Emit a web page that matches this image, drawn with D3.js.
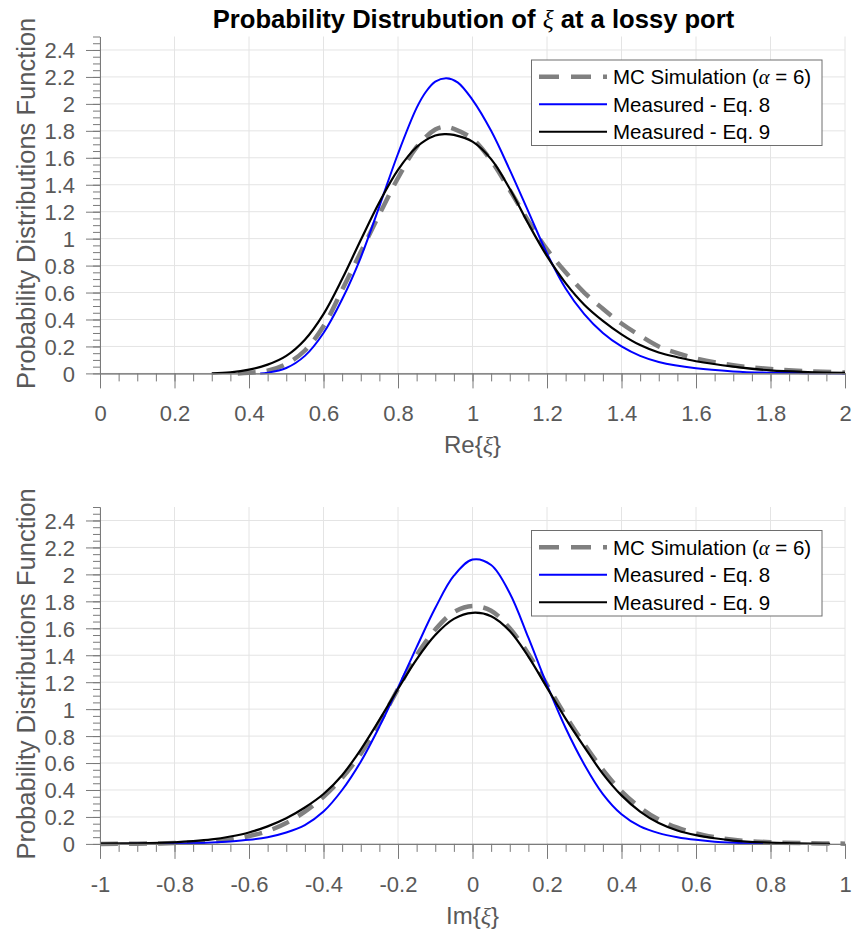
<!DOCTYPE html>
<html><head><meta charset="utf-8">
<script src="https://cdn.jsdelivr.net/npm/d3@7"></script>
<style>body{margin:0;background:#fff}svg{display:block}</style>
</head><body><svg id="c" width="856" height="934"></svg>
<script>
// ---------- data ----------
const chartTitle = ["Probability Distrubution of ", "ξ", " at a lossy port"];
const yLabel = "Probability Distributions Function";
const legendLabels = [["MC Simulation (", "α", " = 6)"], ["Measured - Eq. 8"], ["Measured - Eq. 9"]];
const seriesColors = ["#808080", "#0000ff", "#000000"];

const reTicks = [0, 0.2, 0.4, 0.6, 0.8, 1, 1.2, 1.4, 1.6, 1.8, 2];
const imTicks = [-1, -0.8, -0.6, -0.4, -0.2, 0, 0.2, 0.4, 0.6, 0.8, 1];
const pdfTicks = [0, 0.2, 0.4, 0.6, 0.8, 1, 1.2, 1.4, 1.6, 1.8, 2, 2.2, 2.4];

// Re{xi} panel
const reMcX = [0.37, 0.40, 0.45, 0.50, 0.55, 0.60, 0.65, 0.70, 0.75, 0.80, 0.85, 0.90, 0.925, 0.95, 1.00, 1.05, 1.10, 1.15, 1.20, 1.25, 1.30, 1.35, 1.40, 1.45, 1.50, 1.55, 1.60, 1.70, 1.80, 1.90, 2.00];
const reMcY = [0.0, 0.004, 0.02, 0.07, 0.17, 0.35, 0.62, 0.90, 1.18, 1.45, 1.68, 1.81, 1.83, 1.815, 1.74, 1.58, 1.36, 1.13, 0.92, 0.75, 0.60, 0.48, 0.37, 0.28, 0.20, 0.15, 0.11, 0.06, 0.033, 0.016, 0.007];
const reEq8X = [0.43, 0.45, 0.50, 0.55, 0.60, 0.65, 0.70, 0.75, 0.80, 0.85, 0.875, 0.90, 0.93, 0.96, 1.00, 1.05, 1.10, 1.15, 1.20, 1.25, 1.30, 1.35, 1.40, 1.45, 1.50, 1.60, 1.70, 1.80, 1.90, 2.00];
const reEq8Y = [0.0, 0.005, 0.04, 0.13, 0.30, 0.55, 0.86, 1.24, 1.63, 1.97, 2.09, 2.165, 2.19, 2.16, 2.03, 1.80, 1.51, 1.20, 0.89, 0.63, 0.44, 0.30, 0.20, 0.13, 0.085, 0.038, 0.015, 0.005, 0.002, 0.0];
const reEq9X = [0.30, 0.35, 0.40, 0.45, 0.50, 0.55, 0.60, 0.65, 0.70, 0.75, 0.80, 0.85, 0.90, 0.925, 0.95, 1.00, 1.05, 1.10, 1.15, 1.20, 1.25, 1.30, 1.35, 1.40, 1.45, 1.50, 1.55, 1.60, 1.70, 1.80, 1.90, 2.00];
const reEq9Y = [0.0, 0.008, 0.028, 0.065, 0.13, 0.25, 0.44, 0.70, 0.99, 1.27, 1.51, 1.68, 1.765, 1.776, 1.77, 1.72, 1.59, 1.37, 1.11, 0.87, 0.67, 0.51, 0.39, 0.29, 0.21, 0.155, 0.12, 0.09, 0.05, 0.022, 0.01, 0.004];

// Im{xi} panel
const imMcX = [-1, -0.9, -0.8, -0.7, -0.65, -0.60, -0.55, -0.50, -0.45, -0.40, -0.35, -0.30, -0.25, -0.20, -0.15, -0.10, -0.05, 0.0, 0.05, 0.10, 0.15, 0.20, 0.25, 0.30, 0.35, 0.40, 0.45, 0.50, 0.55, 0.60, 0.65, 0.70, 0.80, 0.90, 1.0];
const imMcY = [0.0, 0.002, 0.006, 0.018, 0.032, 0.058, 0.095, 0.155, 0.24, 0.35, 0.49, 0.67, 0.90, 1.15, 1.40, 1.59, 1.72, 1.765, 1.73, 1.60, 1.41, 1.18, 0.95, 0.74, 0.55, 0.39, 0.27, 0.18, 0.12, 0.078, 0.05, 0.03, 0.012, 0.005, 0.002];
const imEq8X = [-0.95, -0.85, -0.75, -0.70, -0.65, -0.60, -0.55, -0.50, -0.45, -0.40, -0.35, -0.30, -0.25, -0.20, -0.15, -0.10, -0.05, 0.0, 0.05, 0.10, 0.15, 0.20, 0.25, 0.30, 0.35, 0.40, 0.45, 0.50, 0.55, 0.60, 0.65, 0.70, 0.78];
const imEq8Y = [0.0, 0.001, 0.005, 0.01, 0.018, 0.03, 0.05, 0.085, 0.14, 0.24, 0.40, 0.61, 0.87, 1.16, 1.46, 1.75, 1.99, 2.11, 2.07, 1.86, 1.53, 1.18, 0.86, 0.59, 0.37, 0.22, 0.13, 0.08, 0.05, 0.03, 0.016, 0.008, 0.0];
const imEq9X = [-1, -0.9, -0.8, -0.75, -0.70, -0.65, -0.60, -0.55, -0.50, -0.45, -0.40, -0.35, -0.30, -0.25, -0.20, -0.15, -0.10, -0.05, 0.0, 0.05, 0.10, 0.15, 0.20, 0.25, 0.30, 0.35, 0.40, 0.45, 0.50, 0.55, 0.60, 0.65, 0.70, 0.78, 0.87, 0.96];
const imEq9Y = [0.002, 0.005, 0.012, 0.02, 0.033, 0.055, 0.085, 0.13, 0.19, 0.27, 0.37, 0.51, 0.70, 0.92, 1.15, 1.37, 1.55, 1.67, 1.715, 1.69, 1.58, 1.39, 1.16, 0.93, 0.72, 0.52, 0.36, 0.24, 0.155, 0.10, 0.065, 0.042, 0.025, 0.011, 0.004, 0.001];

// ---------- drawing ----------
const svg = d3.select("#c");
const SANS = "'Liberation Sans', Arial, Helvetica, sans-serif";
const SERIF = "'Liberation Serif', 'Times New Roman', serif";
const TXT = "#595959", AX = "#7a7a7a", GRID = "#e4e4e4";
const fmt = v => { const s = String(+(+v).toFixed(2)); return s === "-0" ? "0" : s; };

function range(a, b, step) { const out = []; const n = Math.round((b - a) / step); for (let i = 0; i <= n; i++) out.push(+(a + i * step).toFixed(4)); return out; }

function addMixed(sel, parts) {
  parts.forEach(p => {
    const t = sel.append("tspan").text(p);
    if (p === "ξ" || p === "α") t.attr("font-family", SERIF).attr("font-style", "italic").attr("font-weight", "normal");
  });
}

function panel(cfg) {
  const x = d3.scaleLinear().domain(cfg.xDomain).range([100, 845]);
  const y = d3.scaleLinear().domain([0, 2.5]).range([cfg.y0, cfg.y0 - 336.9]);
  const g = svg.append("g");

  // grid
  g.append("g").selectAll("line").data(cfg.xTicks).join("line")
    .attr("x1", d => x(d)).attr("x2", d => x(d)).attr("y1", y(0)).attr("y2", y(2.5))
    .attr("stroke", GRID).attr("stroke-width", 1);
  g.append("g").selectAll("line").data(pdfTicks).join("line")
    .attr("x1", x(cfg.xDomain[0])).attr("x2", x(cfg.xDomain[1])).attr("y1", d => y(d)).attr("y2", d => y(d))
    .attr("stroke", GRID).attr("stroke-width", 1);

  // curves
  const line = d3.line().x(d => x(d[0])).y(d => y(Math.max(0, d[1]))).curve(d3.curveCatmullRom.alpha(0.5));
  const series = [
    { xs: cfg.mcX, ys: cfg.mcY, c: seriesColors[0], w: 4.5, dash: "18,11" },
    { xs: cfg.e8X, ys: cfg.e8Y, c: seriesColors[1], w: 2, dash: null },
    { xs: cfg.e9X, ys: cfg.e9Y, c: seriesColors[2], w: 2.2, dash: null }
  ];
  series.forEach(s => {
    g.append("path").datum(d3.zip(s.xs, s.ys)).attr("d", line)
      .attr("fill", "none").attr("stroke", s.c).attr("stroke-width", s.w)
      .attr("stroke-dasharray", s.dash).attr("stroke-linejoin", "round");
  });

  // x axis
  const xMinor = d3.axisBottom(x).tickValues(range(cfg.xDomain[0], cfg.xDomain[1], 0.05)).tickSize(8).tickSizeOuter(0).tickFormat("");
  const xMajor = d3.axisBottom(x).tickValues(cfg.xTicks).tickSize(15).tickSizeOuter(0).tickPadding(17).tickFormat(fmt);
  const gxm = g.append("g").attr("transform", `translate(0,${y(0)})`).call(xMinor);
  const gx = g.append("g").attr("transform", `translate(0,${y(0)})`).call(xMajor);
  // y axis
  const yMinor = d3.axisLeft(y).tickValues(range(0, 2.5, 0.05)).tickSize(7).tickSizeOuter(0).tickFormat("");
  const yMajor = d3.axisLeft(y).tickValues(pdfTicks).tickSize(14).tickSizeOuter(0).tickPadding(11).tickFormat(fmt);
  const gym = g.append("g").attr("transform", "translate(100,0)").call(yMinor);
  const gy = g.append("g").attr("transform", "translate(100,0)").call(yMajor);
  [gxm, gx, gym, gy].forEach(a => {
    a.selectAll("path.domain").attr("stroke", AX).attr("stroke-width", 1);
    a.selectAll("line").attr("stroke", AX).attr("stroke-width", 1);
    a.selectAll("text").attr("fill", TXT).attr("font-family", SANS).attr("font-size", 22);
  });
  gy.selectAll("text").attr("dy", "0.36em");

  // x label
  const xl = g.append("text").attr("x", 472.5).attr("y", cfg.y0 + 80).attr("text-anchor", "middle")
    .attr("font-family", SANS).attr("font-size", 24).attr("fill", TXT);
  addMixed(xl, cfg.xLabel);
  // y label
  g.append("text").attr("transform", `translate(35,${cfg.y0 - 170}) rotate(-90)`).attr("text-anchor", "middle")
    .attr("font-family", SANS).attr("font-size", 25.5).attr("fill", TXT).text(yLabel);

  // legend
  const L = g.append("g").attr("transform", `translate(0,${cfg.y0 - 373.4})`);
  L.append("rect").attr("x", 531.5).attr("y", 60).attr("width", 290.5).attr("height", 85.5)
    .attr("fill", "#fff").attr("stroke", "#6e6e6e").attr("stroke-width", 1);
  series.forEach((s, i) => {
    const cy = 76.7 + i * 27.5;
    L.append("line").attr("x1", 539).attr("x2", 607).attr("y1", cy).attr("y2", cy)
      .attr("stroke", s.c).attr("stroke-width", s.w === 4.5 ? 4.5 : 2).attr("stroke-dasharray", s.dash ? "20,12" : null);
    const t = L.append("text").attr("x", 613).attr("y", cy).attr("dy", "0.36em")
      .attr("font-family", SANS).attr("font-size", 20.5).attr("fill", "#000");
    addMixed(t, legendLabels[i]);
  });
}

// title
const tt = svg.append("text").attr("x", 473.5).attr("y", 28).attr("text-anchor", "middle")
  .attr("font-family", SANS).attr("font-weight", "bold").attr("font-size", 25.6).attr("fill", "#000");
addMixed(tt, chartTitle);

panel({ xDomain: [0, 2], xTicks: reTicks, y0: 373.4, xLabel: ["Re{", "ξ", "}"],
  mcX: reMcX, mcY: reMcY, e8X: reEq8X, e8Y: reEq8Y, e9X: reEq9X, e9Y: reEq9Y });
panel({ xDomain: [-1, 1], xTicks: imTicks, y0: 843.9, xLabel: ["Im{", "ξ", "}"],
  mcX: imMcX, mcY: imMcY, e8X: imEq8X, e8Y: imEq8Y, e9X: imEq9X, e9Y: imEq9Y });
</script>
</body></html>
